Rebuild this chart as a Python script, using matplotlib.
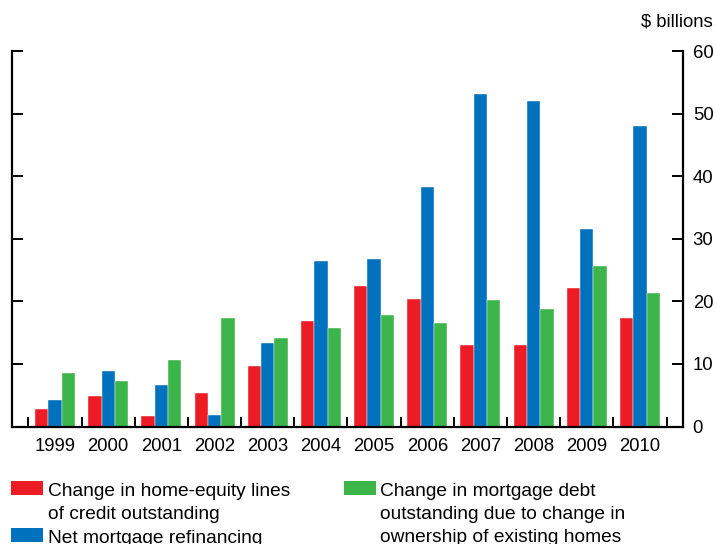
import matplotlib
matplotlib.use("Agg")
import matplotlib.pyplot as plt
import numpy as np
from matplotlib.patches import Rectangle

years = ["1999", "2000", "2001", "2002", "2003", "2004", "2005", "2006", "2007", "2008", "2009", "2010"]
heloc = [2.8, 4.9, 1.6, 5.4, 9.6, 16.8, 22.4, 20.3, 13.1, 13.1, 22.2, 17.3]
refi = [4.2, 8.8, 6.6, 1.9, 13.3, 26.4, 26.7, 38.2, 53.1, 52.0, 31.5, 48.0]
ownership = [8.6, 7.2, 10.7, 17.4, 14.2, 15.8, 17.8, 16.5, 20.2, 18.7, 25.6, 21.4]
yticks = [0, 10, 20, 30, 40, 50, 60]
labels = ["Change in home-equity lines\nof credit outstanding",
          "Net mortgage refinancing",
          "Change in mortgage debt\noutstanding due to change in\nownership of existing homes"]
colors = ["#ED1C24", "#0071BC", "#3CB54A"]

plt.rcParams['font.family'] = ['Liberation Sans', 'DejaVu Sans']
W, H = 716, 544
fig = plt.figure(figsize=(W/100, H/100), dpi=100)
ax = fig.add_axes([12/W, 1-426.5/H, (683-12)/W, (426.5-51)/H])

x = np.arange(len(years))
bw = 0.25
for i, (vals, c) in enumerate(zip([heloc, refi, ownership], colors)):
    ax.bar(x + (i-1)*bw, vals, width=bw, color=c, edgecolor='white', linewidth=0.3)

ax.set_xlim(-0.81, len(years)-1+0.81)
ax.set_ylim(0, 60)
for s in ['left', 'right', 'bottom']:
    ax.spines[s].set_linewidth(1.6)
ax.spines['top'].set_visible(False)

ax.set_yticks(yticks)
ax.yaxis.set_ticks_position('both')
ax.tick_params(axis='y', direction='in', length=8, width=1.4, labelleft=False, labelright=True,
               labelsize=13.3, pad=7)
ax.set_xticks(x)
ax.set_xticklabels(years)
ax.tick_params(axis='x', which='major', length=0, labelsize=13.3, pad=8)
ax.set_xticks(np.arange(len(years)+1) - 0.5, minor=True)
ax.tick_params(axis='x', which='minor', direction='in', length=7.5, width=1.4)

fig.text(713/W, 1-22/H, "$ billions", ha='right', va='center', fontsize=13.3)

def leg(px, ptop, color, text):
    # ptop: top of the patch (pixels from top)
    fig.add_artist(Rectangle((px/W, 1-(ptop+13.5)/H), 32/W, 13.5/H, transform=fig.transFigure,
                             facecolor=color, edgecolor='none'))
    for k, line in enumerate(text.split("\n")):
        fig.text((px+37)/W, 1-(ptop+15+22.8*k)/H, line, ha='left', va='baseline', fontsize=13.8)

leg(11, 481, colors[0], labels[0])
leg(11, 528, colors[1], labels[1])
leg(343.5, 481, colors[2], labels[2])

fig.savefig("out.png", dpi=100)
